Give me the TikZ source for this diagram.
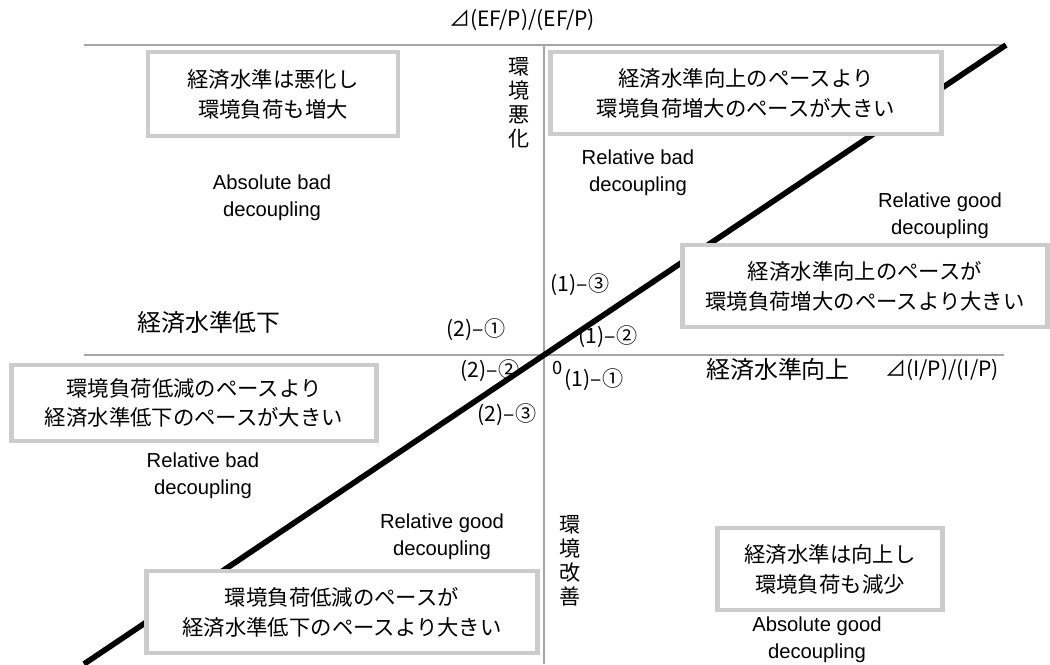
\documentclass[tikz,border=0pt]{standalone}
\usepackage{fontspec}
\setmainfont{Liberation Sans}
\newfontfamily\jp{Noto Sans CJK JP}

\begin{document}
\begin{tikzpicture}[x=0.025cm,y=-0.025cm,font=\fontsize{14.4}{19.5}\selectfont]
                \tikzstyle{axis line}=[draw=gray!70,line width=1pt]
                \tikzstyle{slope line}=[line width=4pt]
                \tikzstyle{note box}=[draw=gray!40,line width=3.5pt,fill=white,align=center,inner sep=0pt,font=\jp\fontsize{15.2}{21.3}\selectfont]
                \tikzstyle{case label}=[inner sep=0pt,font=\jp\fontsize{15}{18}\selectfont]
                \tikzstyle{axis label}=[inner sep=0pt,align=center,font=\jp\fontsize{17}{17.5}\selectfont]
                \tikzstyle{side label}=[inner sep=0pt,align=center,font=\jp\fontsize{15}{17}\selectfont]
                \tikzstyle{type label}=[inner sep=0pt,align=center]
                \useasboundingbox (0,0) rectangle (1050,664);
                % axes and the 45-degree line
                \coordinate (O) at (544,355);
                \coordinate (top left) at (84,45);
                \coordinate (top right) at (1006,45);
                \coordinate (x left) at (84,355);
                \coordinate (x right) at (1004,355);
                \coordinate (y bottom) at (544,664);
                \coordinate (slope low) at (84,664);
                \draw[axis line] (top left) -- (top right);
                \draw[axis line] (x left) -- (x right);
                \draw[axis line] (O |- top left) -- (y bottom);
                \draw[slope line] (slope low) -- (O) -- (top right);
                % axis labels
                \node[inner sep=0pt,font=\jp\fontsize{15}{18}\selectfont] (y name) at (522,20) {⊿(EF/P)/(EF/P)};
                \node[inner sep=0pt,font=\jp\fontsize{15}{18}\selectfont] (x name) at (942,370) {⊿(I/P)/(I/P)};
                \node[axis label] (x down) at (209,322) {経済水準低下};
                \node[axis label] (x up) at (778,369) {経済水準向上};
                \node[side label] (y up) at (519,103) {環\\境\\悪\\化};
                \node[side label] (y down) at (570,561) {環\\境\\改\\善};
                \node[inner sep=0pt,font=\jp\fontsize{13}{15}\selectfont] (zero) at (558,368) {0};
                % cases on the line
                \node[case label] (c13) at (580,285) {(1)–③};
                \node[case label] (c12) at (608,337) {(1)–②};
                \node[case label] (c11) at (594,380) {(1)–①};
                \node[case label] (c21) at (476,330) {(2)–①};
                \node[case label] (c22) at (490,371) {(2)–②};
                \node[case label] (c23) at (507,415) {(2)–③};
                % decoupling types
                \node[type label] (abs bad) at (272,198) {Absolute bad\\decoupling};
                \node[type label] (rel bad up) at (638,173) {Relative bad\\decoupling};
                \node[type label] (rel good up) at (940,216) {Relative good\\decoupling};
                \node[type label] (rel bad down) at (203,476) {Relative bad\\decoupling};
                \node[type label] (rel good down) at (442,537) {Relative good\\decoupling};
                \node[type label] (abs good) at (817,640) {Absolute good\\decoupling};
                % boxes
                \node[note box,minimum width=6.25cm,minimum height=2.1cm] (box11) at (273,94) {経済水準は悪化し\\環境負荷も増大};
                \node[note box,minimum width=9.775cm,minimum height=2.05cm] (box12) at (746,93) {経済水準向上のペースより\\環境負荷増大のペースが大きい};
                \node[note box,minimum width=9.125cm,minimum height=2.05cm] (box13) at (865,286) {経済水準向上のペースが\\環境負荷増大のペースより大きい};
                \node[note box,minimum width=9.125cm,minimum height=1.9cm] (box21) at (194,403) {環境負荷低減のペースより\\経済水準低下のペースが大きい};
                \node[note box,minimum width=5.625cm,minimum height=2.05cm] (box22) at (830,569) {経済水準は向上し\\環境負荷も減少};
                \node[note box,minimum width=9.775cm,minimum height=2.05cm] (box23) at (342,612) {環境負荷低減のペースが\\経済水準低下のペースより大きい};
            \end{tikzpicture}
\end{document}
